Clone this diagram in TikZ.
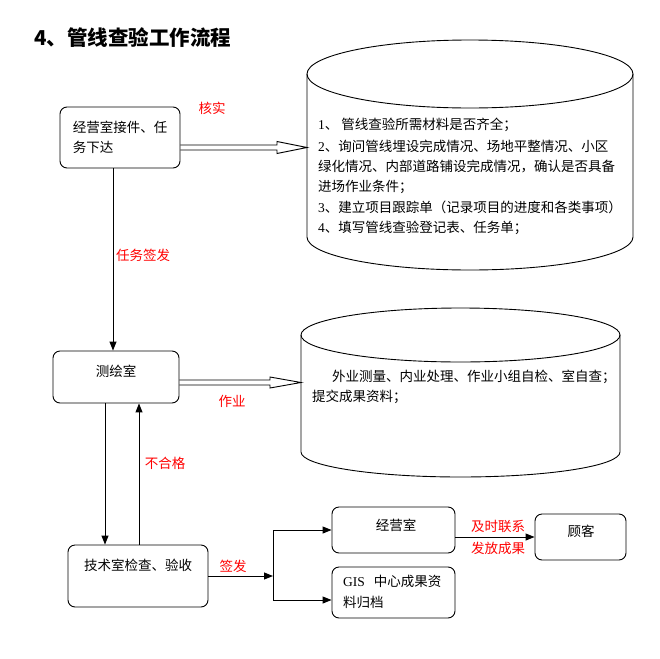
\documentclass[tikz,border=0pt]{standalone}
\usepackage{fontspec}
\setmainfont{Noto Sans CJK SC}
\newfontfamily\lat{Liberation Serif}
\usetikzlibrary{arrows.meta,calc}
\begin{document}
\begin{tikzpicture}[x=1pt,y=-1pt,
  every node/.style={font=\fontsize{13.5}{20.5}\selectfont, inner sep=0pt},
  box/.style={draw, line width=0.9pt, rounded corners=7pt},
  lbl/.style={text=red},
  arr/.style={line width=1pt, -{Triangle[length=9pt,width=7pt]}},
  ln/.style={line width=1pt},
  hollow/.style={line width=0.9pt, line join=miter},
  cyl/.style={line width=0.9pt}]
\useasboundingbox (0,0) rectangle (659,659);

% title
\node[anchor=west, font=\fontsize{20.5}{24}\selectfont\bfseries] (title) at (34,38) {4、管线查验工作流程};

% boxes
\node[box, minimum width=120pt, minimum height=61pt, align=left] (A) at (120,137.5) {经营室接件、任\\务下达};
\node[box, minimum width=126pt, minimum height=52pt] (B) at (116,377) {};
\node (Bt) at (116,371) {测绘室};
\node[box, minimum width=140pt, minimum height=62pt] (C) at (138,576) {};
\node (Ct) at (138,565) {技术室检查、验收};
\node[box, minimum width=123pt, minimum height=46pt] (D) at (393.5,530) {};
\node (Dt) at (396,525) {经营室};
\node[box, minimum width=123pt, minimum height=51pt] (E) at (393.5,592.5) {};
\node[anchor=north west, align=left] (Et) at (343,575) {{\lat GIS}\hspace{9pt}中心成果资\\料归档};
\node[box, minimum width=91pt, minimum height=46pt] (F) at (580.5,537) {};
\node (Ft) at (581,531) {顾客};

% cylinder 1
\draw[cyl] (470,74) ellipse[x radius=163pt, y radius=34pt];
\draw[cyl] (307,74) -- (307,237) arc[start angle=180, end angle=360, x radius=163pt, y radius=33pt] -- (633,74);
\coordinate (cylA) at (307,147.5);
\node[anchor=west] (c1) at (318,125) {{\lat 1}、 管线查验所需材料是否齐全；};
\node[anchor=west] (c2) at (318,146) {{\lat 2}、询问管线埋设完成情况、场地平整情况、小区};
\node[anchor=west] (c3) at (318,166.5) {绿化情况、内部道路铺设完成情况，确认是否具备};
\node[anchor=west] (c4) at (318,187) {进场作业条件；};
\node[anchor=west] (c5) at (318,207.5) {{\lat 3}、建立项目跟踪单（记录项目的进度和各类事项）};
\node[anchor=west] (c6) at (318,228) {{\lat 4}、填写管线查验登记表、任务单；};

% cylinder 2
\draw[cyl] (460.5,335) ellipse[x radius=159.5pt, y radius=27pt];
\draw[cyl] (301,335) -- (301,452) arc[start angle=180, end angle=360, x radius=159.5pt, y radius=25pt] -- (620,335);
\coordinate (cylB) at (301,382.5);
\node[anchor=west] (d1) at (332,377) {外业测量、内业处理、作业小组自检、室自查；};
\node[anchor=west] (d2) at (312,397) {提交成果资料；};

% hollow arrows
\draw[hollow] (A.east |- 0,145) -- (277,145) -- (277,141.5) -- (cylA) -- (277,153.5) -- (277,150) -- (A.east |- 0,150);
\draw[hollow] (B.east |- 0,380) -- (270,380) -- (270,377) -- (cylB) -- (270,388) -- (270,385) -- (B.east |- 0,385);
\node[lbl] (l1) at (212,108) {核实};
\node[lbl] (l3) at (232,401) {作业};

% A -> B
\draw[arr] ($(A.south)+(-7,0)$) -- ($(B.north)+(-3,0)$);
\node[lbl] (l2) at (143,255) {任务签发};

% B <-> C
\draw[arr] ($(B.south)+(-11,0)$) -- ($(C.north)+(-33,0)$);
\draw[arr] ($(C.north)+(1,0)$) -- ($(B.south)+(23,0)$);
\node[lbl] (l4) at (165,463) {不合格};

% C -> split
\coordinate (split) at (273,576);
\draw[arr] (C.east) -- (split);
\node[lbl] (l5) at (233,566) {签发};
\coordinate (jD) at (split |- D.west);
\coordinate (jE) at (273,600);
\draw[ln] (jD) -- (jE);
\draw[arr] (jD) -- (D.west);
\draw[arr] (jE) -- (E.west |- jE);

% D -> F
\draw[arr] (D.east |- F.west) -- (F.west);
\node[lbl] (l6) at (498,526) {及时联系};
\node[lbl] (l7) at (498,548) {发放成果};
\end{tikzpicture}
\end{document}
